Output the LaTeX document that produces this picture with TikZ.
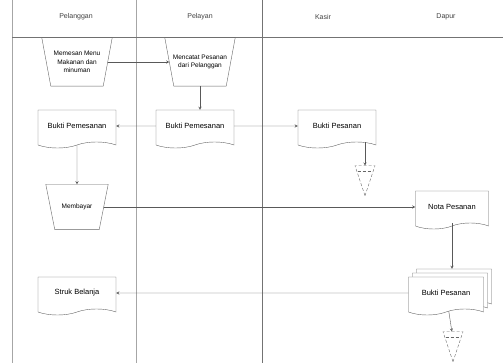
\documentclass[tikz,border=0pt]{standalone}
\usepackage{fontspec}
\setmainfont{Liberation Sans}
\usetikzlibrary{shapes.geometric, shapes.symbols, shadows, arrows, positioning}
\tikzstyle{arrow} = [->,>=stealth,draw=black!65]
\tikzstyle{lane} = [draw=black!35]
\tikzstyle{doc} = [tape, tape bend top=none, tape bend height=6pt, draw=black!60, fill=white,
  minimum width=78pt, minimum height=38pt, inner sep=1pt, align=center, font=\fontsize{7.5}{9}\selectfont]
\tikzstyle{multidoc} = [doc, double copy shadow={shadow xshift=4pt, shadow yshift=4pt, draw=black!60, fill=white}]
\tikzstyle{manual} = [rectangle, minimum width=70pt, minimum height=48pt,
  inner sep=1pt, align=center, font=\fontsize{6.5}{8.5}\selectfont]
\tikzstyle{store} = [isosceles triangle, isosceles triangle stretches, shape border rotate=-90,
  draw=black!60, densely dashed, minimum width=20pt, minimum height=30pt, inner sep=0pt]
\tikzstyle{head} = [font=\fontsize{7}{9}\selectfont, text=black!75]

\begin{document}
\begin{tikzpicture}[x=1pt, y=-1pt]
    \useasboundingbox (0,0) rectangle (503,363);

    % Lanes
    \draw[lane] (12,0) -- (12,363);
    \draw[lane] (136,0) -- (136,363);
    \draw[draw=black!55] (262,0) -- (262,363);
    \draw[draw=black!55] (12,37) -- (503,37);
    \node (hpelanggan) [head] at (76,17) {Pelanggan};
    \node (hpelayan) [head] at (200,17) {Pelayan};
    \node (hkasir) [head] at (323,17) {Kasir};
    \node (hdapur) [head] at (446,17) {Dapur};

    \node (memesan) [manual] at (77,62) {Memesan Menu\\Makanan dan\\minuman};
    \node (mencatat) [manual, right of=memesan, node distance=123pt] {Mencatat Pesanan\\dari Pelanggan};
    \node (bukti1) [doc, below of=memesan, node distance=64pt] {Bukti Pemesanan};
    \node (bukti2) [doc, below of=mencatat, node distance=64pt, xshift=-5pt] {Bukti Pemesanan};
    \node (pesanan) [doc, right of=bukti2, node distance=142pt] {Bukti Pesanan};
    \node (arsip1) [store, below of=pesanan, node distance=47pt, xshift=28pt] {};
    \node (bayar) [manual, below of=bukti1, node distance=81pt, minimum width=62pt, minimum height=45pt] {Membayar};
    \node (nota) [doc, right of=bayar, node distance=375pt, minimum width=73pt] {Nota Pesanan};
    \node (bpesan) [multidoc, below of=nota, node distance=86pt, xshift=-6pt, minimum width=75pt] {Bukti Pesanan};
    \node (arsip2) [store, below of=bpesan, node distance=46pt, xshift=7pt] {};
    \node (struk) [doc, left of=bpesan, node distance=369pt] {Struk Belanja};

    % manual outlines
    \foreach \n in {memesan, mencatat, bayar}
        \draw[black!60] (\n.north west) -- (\n.north east) -- ([xshift=-9pt]\n.south east)
            -- ([xshift=9pt]\n.south west) -- cycle;

    % file marks
    \draw[black!60, densely dashed] ([yshift=-6pt]arsip1.north west) -- ([yshift=-6pt]arsip1.north east);
    \draw[black!60, densely dashed] ([yshift=-6pt]arsip2.north west) -- ([yshift=-6pt]arsip2.north east);

    % Edges
    \draw[arrow] ([xshift=-4.5pt]memesan.east) -- ([xshift=4.5pt]mencatat.west);
    \draw[arrow] (mencatat.south) -- (mencatat.south |- bukti2.north);
    \draw[arrow] (bukti2) -- (bukti1);
    \draw[arrow] (bukti2) -- (pesanan);
    \draw[arrow] (arsip1 |- pesanan.south) -- (arsip1);
    \draw[arrow] (bukti1) -- (bayar.north);
    \draw[arrow] ([xshift=-4.5pt]bayar.east) -- (bayar.east -| nota.west);
    \draw[arrow] (nota.south) -- ([yshift=8pt]nota.south |- bpesan.north);
    \draw[arrow] (bpesan) -- (arsip2);
    \draw[arrow] (bpesan) -- (struk);
\end{tikzpicture}
\end{document}
